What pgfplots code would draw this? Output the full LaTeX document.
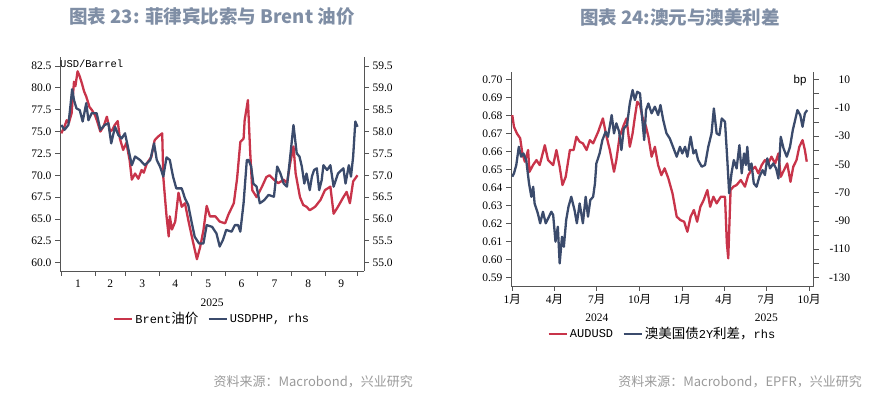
\documentclass[border=0pt]{standalone}
\usepackage{fontspec}
\setmainfont{Liberation Serif}
\newfontfamily\cjk{Noto Sans CJK SC}
\newfontfamily\mono{Liberation Mono}
\newfontfamily\sans{Liberation Sans}
\usepackage{pgfplots}
\usepackage{pgfplotstable}
\pgfplotsset{compat=1.18}
\definecolor{cred}{HTML}{C8344A}
\definecolor{cblue}{HTML}{3B4B6C}
\definecolor{ctitle}{HTML}{7F8EA5}
\definecolor{csrc}{HTML}{9A9A9A}
\definecolor{cspine}{HTML}{555555}

\pgfplotstableread{
day val
0 74.8
3 75.6
5 76.3
7 76.0
9.5 77.1
11.7 80.7
13 80.2
15 81.9
17 81.3
19 80.5
21 79.6
23 79.0
26 77.8
28 77.5
31 76.9
33 76.2
36 75.0
39 75.6
42 76.7
45 75.0
47 75.2
49 75.7
52 76.2
54 74.2
57 72.9
60 73.7
63 71.7
65 69.5
68 70.2
71 69.6
74 70.6
76 70.3
79 71.4
83 72.1
86 74.0
89 74.4
93 74.8
94 69.8
97 65.3
99 63.0
100 65.3
102 63.8
105 64.7
108 68.0
111 66.4
114 66.8
117 64.9
121 62.6
125 60.4
128 61.8
131 63.7
134 66.5
137 65.3
142 65.3
146 64.7
151 64.5
154 65.5
159 66.8
162 69.6
165 73.8
168 74.2
169 76.3
172 78.6
174 72.9
176 68.3
180 67.5
185 68.7
189 69.8
192 70.0
196 69.5
200 69.1
205 69.5
208 69.1
211 71.4
214 73.3
216 70.2
220 67.5
223 66.6
226 66.4
229 66.0
234 66.4
239 67.2
243 68.3
248 68.7
251 65.6
255 66.4
260 67.5
263 68.1
266 66.8
269 69.3
273 70.0
}\brent

\pgfplotstableread{
day val
0 58.15
3 58.04
6.5 58.15
8 58.49
10 58.97
11.7 58.72
14 58.53
17 58.49
19.7 58.23
23 58.65
25 58.26
28 58.42
32.6 58.42
36 58.04
40 58.15
43.4 58.19
46 57.73
49.5 58.11
52.6 57.92
55.6 57.84
58.7 57.96
62 57.58
65 57.23
68 57.43
72.5 57.35
77 57.23
82 57.35
85.5 57.73
88 57.35
91 57.20
94 56.97
97 57.41
100 57.35
103 56.97
106 56.70
111 56.70
114 56.47
117 56.32
120 55.94
123 55.59
127 55.44
131 55.44
134 55.86
139 55.82
143 55.67
146 55.37
149 55.52
152 55.75
157 55.71
160 55.86
163 55.86
165 55.71
168 56.36
171 57.35
172.6 57.35
175 57.20
177 56.81
180 56.74
183 56.36
187 56.43
191 56.55
196 56.51
199 57.20
202 57.04
205 56.81
208 56.74
211 57.43
214 58.15
217 57.50
219.5 57.43
221.7 57.20
224 56.81
226 57.04
229 56.66
231 56.97
233 57.12
235.5 57.16
237.7 56.66
240 56.89
241.6 57.23
245 57.12
248 57.23
251 56.74
255 57.04
260 57.16
262 56.81
265 57.23
267 56.97
269 57.43
271 58.23
273 58.11
}\php

\pgfplotstableread{
day val
0 0.6803
3.6 0.6738
10 0.6701
17 0.6674
21.6 0.6590
27 0.6544
34 0.6609
37 0.6488
44.6 0.6525
52 0.6553
59 0.6525
70 0.6636
77 0.6553
88 0.6525
95 0.6609
102 0.6516
108 0.6414
115 0.6460
124 0.6609
132 0.6609
138 0.6683
145 0.6655
152 0.6646
160 0.6609
167 0.6664
174 0.6646
185 0.6711
195 0.6785
203 0.6683
210 0.6609
219 0.6488
224 0.6553
231 0.6683
240 0.6748
246 0.6785
253 0.6627
259 0.6701
264 0.6794
269 0.6878
275 0.6859
280 0.6794
288 0.6738
293 0.6683
300 0.6572
307 0.6627
314 0.6525
321 0.6469
328 0.6507
336 0.6451
345 0.6367
354 0.6238
362 0.6219
370 0.6210
377 0.6154
384 0.6238
391 0.6275
398 0.6210
405 0.6293
412 0.6330
420 0.6386
426 0.6293
433 0.6349
440 0.6312
449 0.6349
458 0.6349
462 0.6089
465 0.6006
470 0.6386
476 0.6405
483 0.6414
492 0.6442
501 0.6405
508 0.6469
515 0.6497
523 0.6516
530 0.6479
537 0.6525
544 0.6553
551 0.6534
558 0.6572
566 0.6534
573 0.6590
578 0.6460
585 0.6497
592 0.6534
599 0.6432
605 0.6516
612 0.6553
618 0.6627
625 0.6664
630 0.6609
634 0.6544
}\aud

\pgfplotstableread{
day val
0 -58.7
3.6 -56.3
8.6 -50.4
14 -37.5
19 -44.5
24 -42.2
30 -46.9
36 -63.4
41 -72.9
45 -65.8
48 -77.6
55 -84.7
60 -91.7
66 -83.5
72 -91.7
79 -87.0
84 -83.5
88 -85.8
93 -104.7
98 -94.1
102 -120.1
107 -101.2
111 -108.3
116 -89.4
121 -79.9
127 -72.9
134 -82.3
139 -91.7
145 -77.6
152 -91.7
158 -72.9
163 -87.0
168 -75.2
174 -72.9
178 -63.4
181 -49.3
188 -42.2
194 -32.7
201 -26.8
206 -30.4
214 -15.0
219 -28.0
224 -20.9
230 -26.8
235 -39.8
240 -24.5
247 -22.1
253 -6.8
259 2.7
264 -4.4
269 1.5
275 0.3
280 -18.6
284 -32.7
288 -11.5
293 -6.8
300 -13.8
307 -9.1
314 -15.0
319 -7.9
325 -18.6
332 -28.0
339 -31.5
346 -37.5
354 -44.5
361 -37.5
366 -42.2
372 -37.5
377 -44.5
384 -30.4
390 -42.2
395 -39.8
400 -46.9
408 -51.6
415 -50.4
422 -37.5
429 -28.0
434 -10.3
440 -28.0
446 -29.2
451 -17.4
458 -19.7
463 -46.9
467 -70.5
472 -56.3
477 -46.9
483 -52.8
489 -36.3
494 -56.3
499 -42.2
503 -50.4
506 -37.5
510 -54.0
515 -49.3
520 -63.4
526 -65.8
532 -58.7
539 -54.0
544 -57.5
549 -45.7
555 -52.8
562 -49.3
568 -52.8
573 -59.9
578 -30.4
584 -38.6
591 -44.5
598 -37.5
604 -25.6
609 -18.6
614 -11.5
620 -15.0
625 -23.3
630 -13.8
635 -11.5
}\spread

\pgfplotsset{
  base/.style={
    scale only axis,
    clip mode=individual,
    axis line style={cspine, line width=0.8pt},
    tick style={cspine, line width=0.8pt},
    tick align=outside,
    major tick length=5pt, minor tick length=5pt,
    /pgf/number format/assume math mode=true,
    ticklabel style={font=\fontsize{11.5}{12}\selectfont, text=black},
    legend image code/.code={\draw[#1, line width=2.6pt] (0pt,0pt) -- (18pt,0pt);},
    legend style={draw=none, fill=none, legend columns=-1,
      font=\fontsize{12}{13}\selectfont, inner sep=0pt,
      /tikz/every even column/.append style={column sep=7pt}},
  },
  ser/.style={line width=2.3pt, line join=round},
}

\begin{document}
\begin{tikzpicture}
\path[use as bounding box] (0pt,0pt) rectangle (886pt,396pt);

% ===== left chart =====
\begin{axis}[base, at={(60pt,125pt)}, anchor=south west, width=304pt, height=214pt,
  xmin=-1.2, xmax=279, ymin=59.05, ymax=83.53,
  axis x line*=bottom, axis y line*=left,
  xtick={0,31,59,90,120,151,181,212,243,273}, x tick label as interval,
  xticklabels={1,2,3,4,5,6,7,8,9},
  ytick={60,62.5,65,67.5,70,72.5,75,77.5,80,82.5},
  yticklabel style={/pgf/number format/.cd, fixed, fixed zerofill, precision=1},
  xlabel={2025},
  xlabel style={font=\fontsize{11.5}{12}\selectfont, at={(axis description cs:0.5,0)}, anchor=center, yshift=-31.7pt},
]
\addplot[ser, cred] table[x=day, y=val] {\brent};
\node[anchor=north west, font=\mono\fontsize{10.5}{12}\selectfont, inner sep=0pt] at (rel axis cs:0,1) [yshift=-3pt] {USD/Barrel};
\end{axis}
\begin{axis}[base, at={(60pt,125pt)}, anchor=south west, width=304pt, height=214pt,
  xmin=-1.2, xmax=279, ymin=54.81, ymax=59.706,
  axis x line=none, axis y line*=right,
  ytick={55,55.5,56,56.5,57,57.5,58,58.5,59,59.5},
  yticklabel style={/pgf/number format/.cd, fixed, fixed zerofill, precision=1},
  legend style={at={(0.5,-0.2243)}, anchor=center},
]
\addlegendimage{ser, cred}
\addlegendentry{{\mono Brent}{\cjk\fontsize{13.5}{14}\selectfont 油价}}
\addplot[ser, cblue] table[x=day, y=val] {\php};
\addlegendentry{{\mono USDPHP, rhs}}
\end{axis}

% ===== right chart =====
\begin{axis}[base, at={(511pt,110pt)}, anchor=south west, width=302.7pt, height=214.3pt,
  xmin=-2.8, xmax=649, ymin=0.5852, ymax=0.7045,
  axis x line*=bottom, axis y line*=left,
  xtick={0,91,182,274,366,456,547,639},
  xticklabels={1{\cjk 月},4{\cjk 月},7{\cjk 月},10{\cjk 月},1{\cjk 月},4{\cjk 月},7{\cjk 月},10{\cjk 月}},
  ytick={0.59,0.60,0.61,0.62,0.63,0.64,0.65,0.66,0.67,0.68,0.69,0.70},
  yticklabel style={/pgf/number format/.cd, fixed, fixed zerofill, precision=2},
]
\addplot[ser, cred] table[x=day, y=val] {\aud};
\node[font=\fontsize{11.5}{12}\selectfont] at (axis cs:182,0.5852) [yshift=-31.7pt] {2024};
\node[font=\fontsize{11.5}{12}\selectfont] at (axis cs:547,0.5852) [yshift=-31.7pt] {2025};
\end{axis}
\begin{axis}[base, at={(511pt,110pt)}, anchor=south west, width=302.7pt, height=214.3pt,
  xmin=-2.8, xmax=649, ymin=-136.1, ymax=15.7,
  axis x line=none, axis y line*=right,
  ytick={-130,-110,-90,-70,-50,-30,-10,10},
  minor ytick={-120,-100,-80,-60,-40,-20,0},
  yticklabel style={anchor=east, xshift=35pt},
  legend style={at={(0.5,-0.224)}, anchor=center},
]
\addlegendimage{ser, cred}
\addlegendentry{{\mono AUDUSD}}
\addplot[ser, cblue] table[x=day, y=val] {\spread};
\addlegendentry{{\cjk\fontsize{13.5}{14}\selectfont 澳美国债}{\mono 2Y}{\cjk\fontsize{13.5}{14}\selectfont 利差，}{\mono rhs}}
\node[anchor=north east, font=\sans\fontsize{11.5}{12}\selectfont, inner sep=0pt] at (rel axis cs:1,1) [xshift=-7pt, yshift=-3pt] {bp};
\end{axis}

% ===== titles and sources =====
\node[font=\cjk\bfseries\fontsize{18.5}{20}\selectfont, text=ctitle] at (212pt,379pt) {图表 23: 菲律宾比索与 Brent 油价};
\node[font=\cjk\bfseries\fontsize{18.5}{20}\selectfont, text=ctitle] at (680pt,379pt) {图表 24:澳元与澳美利差};
\node[anchor=east, font=\cjk\fontsize{13}{14}\selectfont, text=csrc, inner sep=0pt] at (413pt,14pt) {资料来源：Macrobond，兴业研究};
\node[anchor=east, font=\cjk\fontsize{13}{14}\selectfont, text=csrc, inner sep=0pt] at (862pt,14pt) {资料来源：Macrobond，EPFR，兴业研究};
\end{tikzpicture}
\end{document}
